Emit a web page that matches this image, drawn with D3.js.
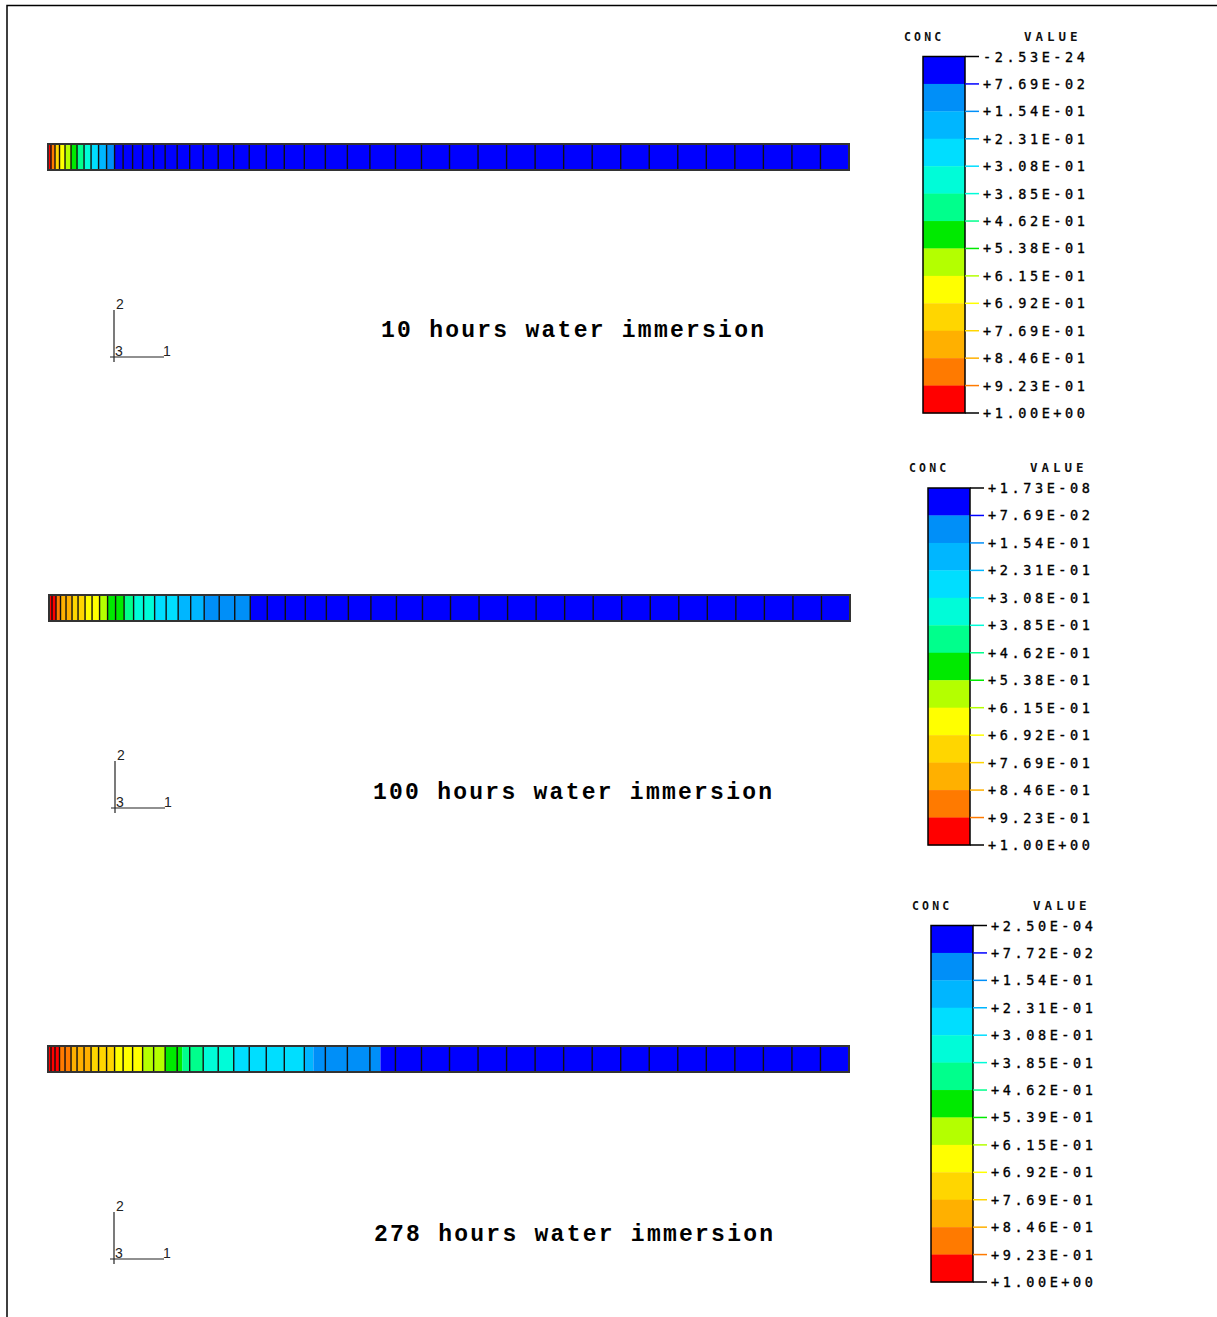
<!DOCTYPE html>
<html>
<head>
<meta charset="utf-8">
<script src="https://cdn.jsdelivr.net/npm/d3@7"></script>
<style>
  html, body { margin: 0; padding: 0; background: #fff; }
  svg { display: block; }
</style>
</head>
<body>
<svg id="chart" width="1217" height="1317"></svg>
<script>
// Mesh node positions along the strip (mm, from the exposed face)
const nodeX = [0, 0.03, 0.07, 0.115, 0.17, 0.23, 0.29, 0.36, 0.43, 0.505, 0.585, 0.665,
  0.75, 0.845, 0.945, 1.055, 1.17, 1.29, 1.415, 1.55, 1.70, 1.855, 2.01, 2.18, 2.36,
  2.56, 2.77, 2.99, 3.215, 3.47, 3.73, 4.01, 4.295, 4.58, 4.865, 5.15, 5.435, 5.72,
  6.005, 6.29, 6.575, 6.86, 7.145, 7.43, 7.715, 8.0];

// Contour band colours, lowest (index 0) to highest (index 12)
const bandColors = ["#0000ff", "#008ff8", "#00b6ff", "#00deff", "#00fcd8", "#00ff8c",
  "#00ea00", "#b4ff00", "#ffff00", "#ffd600", "#ffb000", "#ff7a00", "#ff0000"];

// Concentration bands along each strip: [end position (mm), band index]
const conc10h = [[0.03, 12], [0.07, 11], [0.115, 9], [0.17, 8], [0.23, 7], [0.29, 6],
  [0.36, 5], [0.43, 4], [0.505, 3], [0.585, 2], [0.665, 1], [8.0, 0]];
const conc100h = [[0.07, 12], [0.115, 11], [0.23, 10], [0.36, 9], [0.505, 8], [0.585, 7],
  [0.75, 6], [0.845, 5], [1.055, 4], [1.29, 3], [1.55, 2], [2.01, 1], [8.0, 0]];
const conc278h = [[0.115, 12], [0.23, 11], [0.43, 10], [0.665, 9], [0.945, 8], [1.17, 7],
  [1.34, 6], [1.55, 5], [1.855, 4], [2.56, 3], [2.65, 2], [3.32, 1], [8.0, 0]];

// Legend tick labels (top to bottom)
const labels10h = ["-2.53E-24", "+7.69E-02", "+1.54E-01", "+2.31E-01", "+3.08E-01",
  "+3.85E-01", "+4.62E-01", "+5.38E-01", "+6.15E-01", "+6.92E-01", "+7.69E-01",
  "+8.46E-01", "+9.23E-01", "+1.00E+00"];
const labels100h = ["+1.73E-08", "+7.69E-02", "+1.54E-01", "+2.31E-01", "+3.08E-01",
  "+3.85E-01", "+4.62E-01", "+5.38E-01", "+6.15E-01", "+6.92E-01", "+7.69E-01",
  "+8.46E-01", "+9.23E-01", "+1.00E+00"];
const labels278h = ["+2.50E-04", "+7.72E-02", "+1.54E-01", "+2.31E-01", "+3.08E-01",
  "+3.85E-01", "+4.62E-01", "+5.39E-01", "+6.15E-01", "+6.92E-01", "+7.69E-01",
  "+8.46E-01", "+9.23E-01", "+1.00E+00"];

const titles = ["10 hours water immersion", "100 hours water immersion", "278 hours water immersion"];

const svg = d3.select("#chart");

// outer frame (top and left edges)
svg.append("path")
  .attr("d", "M7,1317 V5.5 H1217")
  .attr("fill", "none").attr("stroke", "#000").attr("stroke-width", 1.5);

const panels = [
  { conc: conc10h, labels: labels10h, title: titles[0],
    strip: { x0: 48, x1: 849, y: 144 }, triad: { x: 114, y: 357 },
    titlePos: { x: 381, y: 337 },
    legend: { x: 923, top: 56.5, bottom: 413, conc: 904, value: 1024, head: 41 } },
  { conc: conc100h, labels: labels100h, title: titles[1],
    strip: { x0: 49, x1: 850, y: 595 }, triad: { x: 115, y: 808 },
    titlePos: { x: 373, y: 799 },
    legend: { x: 928, top: 488, bottom: 845, conc: 909, value: 1030, head: 472 } },
  { conc: conc278h, labels: labels278h, title: titles[2],
    strip: { x0: 48, x1: 849, y: 1046 }, triad: { x: 114, y: 1259 },
    titlePos: { x: 374, y: 1241 },
    legend: { x: 931, top: 925.5, bottom: 1282, conc: 912, value: 1033, head: 910 } }
];

const stripH = 26;
const legendW = 42;

panels.forEach(p => {
  const g = svg.append("g");

  // ---- contour strip ----
  const x = d3.scaleLinear().domain([0, nodeX[nodeX.length - 1]])
    .range([p.strip.x0, p.strip.x1]);
  const segs = p.conc.map((d, i) => ({
    start: i === 0 ? 0 : p.conc[i - 1][0], end: d[0], band: d[1] }));
  g.selectAll("rect.seg").data(segs).join("rect")
    .attr("class", "seg")
    .attr("x", d => x(d.start))
    .attr("width", d => x(d.end) - x(d.start))
    .attr("y", p.strip.y).attr("height", stripH)
    .attr("fill", d => bandColors[d.band]);
  g.selectAll("line.elem").data(nodeX.slice(1, -1)).join("line")
    .attr("class", "elem")
    .attr("x1", d => x(d)).attr("x2", d => x(d))
    .attr("y1", p.strip.y).attr("y2", p.strip.y + stripH)
    .attr("stroke", "#111").attr("stroke-width", 1.4);
  g.append("rect")
    .attr("x", p.strip.x0).attr("y", p.strip.y)
    .attr("width", p.strip.x1 - p.strip.x0).attr("height", stripH)
    .attr("fill", "none").attr("stroke", "#333").attr("stroke-width", 2);

  // ---- coordinate triad ----
  const t = p.triad;
  g.append("line").attr("x1", t.x).attr("x2", t.x).attr("y1", t.y - 47).attr("y2", t.y + 5)
    .attr("stroke", "#222").attr("stroke-width", 1.2);
  g.append("line").attr("x1", t.x - 4).attr("x2", t.x + 50).attr("y1", t.y).attr("y2", t.y)
    .attr("stroke", "#222").attr("stroke-width", 1.2);
  const triadText = [["2", t.x + 2, t.y - 48], ["3", t.x + 1, t.y - 1], ["1", t.x + 49, t.y - 1]];
  g.selectAll("text.triad").data(triadText).join("text")
    .attr("class", "triad")
    .attr("x", d => d[1]).attr("y", d => d[2])
    .attr("font-family", "Liberation Sans, Arial, sans-serif")
    .attr("font-size", 14).attr("fill", "#222")
    .text(d => d[0]);

  // ---- title ----
  g.append("text")
    .attr("x", p.titlePos.x).attr("y", p.titlePos.y)
    .attr("font-family", "Liberation Mono, Courier New, monospace")
    .attr("font-weight", "bold").attr("font-size", 23)
    .attr("letter-spacing", 2.25).attr("fill", "#000")
    .text(p.title);

  // ---- legend ----
  const L = p.legend;
  const y = d3.scaleLinear().domain([0, bandColors.length]).range([L.top, L.bottom]);
  g.selectAll("rect.band").data(bandColors).join("rect")
    .attr("class", "band")
    .attr("x", L.x).attr("width", legendW)
    .attr("y", (d, i) => y(i)).attr("height", (d, i) => y(i + 1) - y(i) + 0.3)
    .attr("fill", d => d);
  g.append("rect")
    .attr("x", L.x).attr("y", L.top).attr("width", legendW).attr("height", L.bottom - L.top)
    .attr("fill", "none").attr("stroke", "#000").attr("stroke-width", 1.5);

  const tickX = L.x + legendW;
  const n = p.labels.length;
  g.selectAll("line.tick").data(p.labels).join("line")
    .attr("class", "tick")
    .attr("x1", tickX).attr("x2", tickX + 14)
    .attr("y1", (d, i) => y(i)).attr("y2", (d, i) => y(i))
    .attr("stroke", (d, i) => (i === 0 || i === n - 1) ? "#000" : bandColors[i - 1])
    .attr("stroke-width", 1.5);
  g.selectAll("text.lab").data(p.labels).join("text")
    .attr("class", "lab")
    .attr("x", tickX + 18).attr("y", (d, i) => y(i) + 5)
    .attr("font-family", "DejaVu Sans Mono, monospace")
    .attr("font-size", 13.5).attr("letter-spacing", 3.6).attr("fill", "#000")
    .attr("stroke", "#000").attr("stroke-width", 0.35)
    .text(d => d);

  g.append("text").attr("x", L.conc).attr("y", L.head)
    .attr("font-family", "DejaVu Sans Mono, monospace").attr("font-weight", "bold")
    .attr("font-size", 11.5).attr("letter-spacing", 3.2).attr("fill", "#111")
    .text("CONC");
  g.append("text").attr("x", L.value).attr("y", L.head)
    .attr("font-family", "DejaVu Sans Mono, monospace").attr("font-weight", "bold")
    .attr("font-size", 12.5).attr("letter-spacing", 4).attr("fill", "#111")
    .text("VALUE");
});
</script>
</body>
</html>
